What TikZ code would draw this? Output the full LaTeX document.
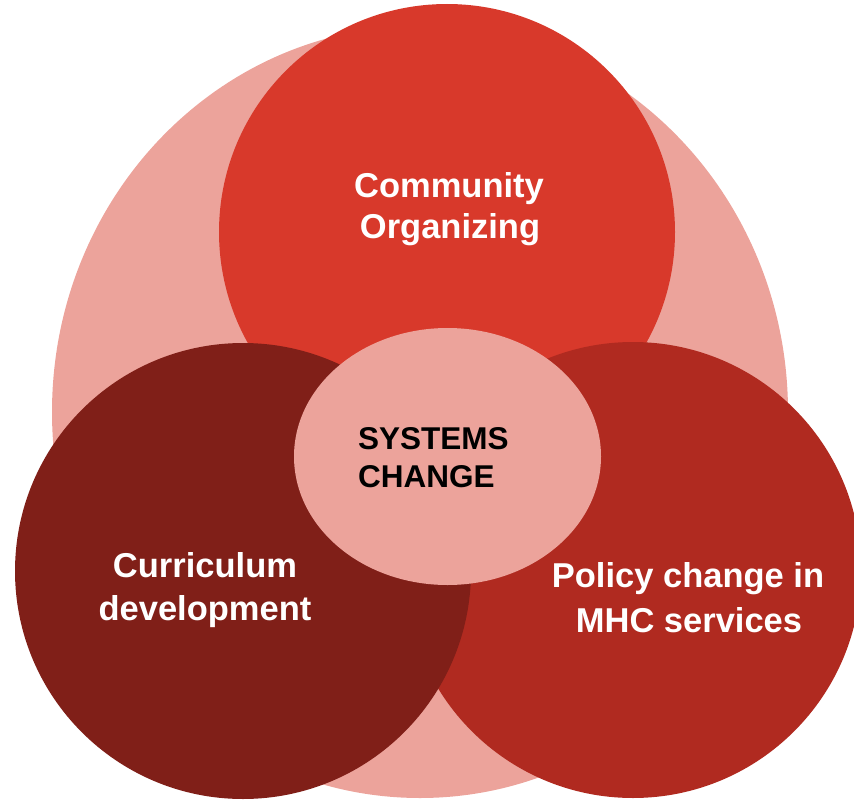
\documentclass[tikz,border=0pt]{standalone}
\usepackage{fontspec}
\setmainfont{Liberation Sans}
\definecolor{pinkbg}{HTML}{ECA39B}
\definecolor{topred}{HTML}{D8392B}
\definecolor{rightred}{HTML}{B02A20}
\definecolor{leftred}{HTML}{801F18}
\tikzset{
  lbl/.style={text=white, font=\bfseries\fontsize{34.5}{41}\selectfont, anchor=base, inner sep=0pt},
  ctr/.style={text=black, font=\bfseries\fontsize{31.5}{38}\selectfont, anchor=base west, inner sep=0pt}
}
\begin{document}
\begin{tikzpicture}[x=1pt,y=-1pt]
\useasboundingbox (0,0) rectangle (854,800);
\clip (0,0) rectangle (854,800);
\fill[pinkbg] (420,412) ellipse [x radius=368, y radius=386];
\fill[topred] (447,232) circle [radius=228];
\fill[rightred] (633,570) circle [radius=228];
\fill[leftred] (243,571) circle [radius=228];
\fill[pinkbg] (447.5,456.5) ellipse [x radius=153.5, y radius=128.5];
\node[lbl] (co1) at (449,197) {Community};
\node[lbl] (co2) at (450,238) {Organizing};
\node[lbl] (cd1) at (205,577) {Curriculum};
\node[lbl] (cd2) at (205,620) {development};
\node[lbl] (pc1) at (688,587) {Policy change in};
\node[lbl] (pc2) at (689,632) {MHC services};
\node[ctr] (sc1) at (358,449) {SYSTEMS};
\node[ctr] (sc2) at (358,487) {CHANGE};
\end{tikzpicture}
\end{document}
